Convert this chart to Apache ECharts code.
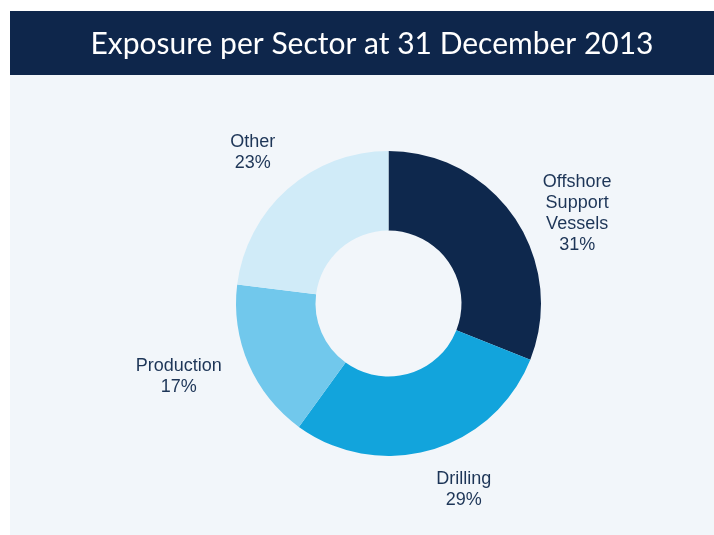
<!DOCTYPE html>
<html>
<head>
<meta charset="utf-8">
<script src="https://cdn.jsdelivr.net/npm/echarts@6/dist/echarts.min.js"></script>
<style>
  html, body { margin: 0; padding: 0; background: #ffffff; }
  #chart { width: 714px; height: 535px; }
</style>
</head>
<body>
<div id="chart"></div>
<script>
// Exposure by sector, 31 December 2013 (% of total)
const sectors = ['Offshore\nSupport\nVessels', 'Drilling', 'Production', 'Other'];
const shares = [31, 29, 17, 23];
const sectorColors = ['#0e284d', '#12a4dc', '#71c8ec', '#d0ebf8'];

// Label placement: angular shift (deg) from the slice's mid angle and distance from the centre (px)
const labelLayoutBySlice = [
  { shift: 8.7, dist: 209 },
  { shift: -5.8, dist: 201 },
  { shift: 4.2, dist: 222 },
  { shift: -0.6, dist: 203 }
];

const CX = 388.5, CY = 303.5;
const total = shares.reduce((a, b) => a + b, 0);
const cumulative = [];
shares.reduce((acc, v, i) => { cumulative[i] = acc + v / 2; return acc + v; }, 0);

const chart = echarts.init(document.getElementById('chart'), null, { renderer: 'canvas' });

chart.setOption({
  backgroundColor: '#ffffff',
  animation: false,
  textStyle: { fontFamily: "'Liberation Sans', Arial, sans-serif" },
  graphic: [
    { type: 'rect', z: -10, shape: { x: 10, y: 11, width: 704, height: 524 }, style: { fill: '#f2f6fa' } },
    { type: 'rect', z: -9, shape: { x: 10, y: 11, width: 704, height: 64 }, style: { fill: '#0e264b' } },
    {
      type: 'text', x: 372, y: 44,
      style: {
        text: 'Exposure per Sector at 31 December 2013',
        fill: '#ffffff', font: '30px Lato', align: 'center', verticalAlign: 'middle'
      }
    }
  ],
  series: [{
    type: 'pie',
    center: [CX, CY],
    radius: [73, 152.5],
    startAngle: 90,
    clockwise: true,
    avoidLabelOverlap: false,
    silent: true,
    label: {
      show: true,
      position: 'outside',
      formatter: (p) => p.name + '\n' + p.value + '%',
      color: '#1d3557',
      fontFamily: "'Liberation Sans', Arial, sans-serif",
      fontSize: 18,
      lineHeight: 21,
      align: 'center'
    },
    labelLine: { show: false },
    labelLayout: (params) => {
      const i = params.dataIndex;
      const cfg = labelLayoutBySlice[i];
      const a = (cumulative[i] / total * 360 + cfg.shift) * Math.PI / 180;
      return {
        x: CX + cfg.dist * Math.sin(a),
        y: CY - cfg.dist * Math.cos(a),
        align: 'center',
        verticalAlign: 'middle'
      };
    },
    itemStyle: { borderWidth: 0 },
    data: sectors.map((name, i) => ({
      name: name,
      value: shares[i],
      itemStyle: { color: sectorColors[i] }
    }))
  }]
});
</script>
</body>
</html>
